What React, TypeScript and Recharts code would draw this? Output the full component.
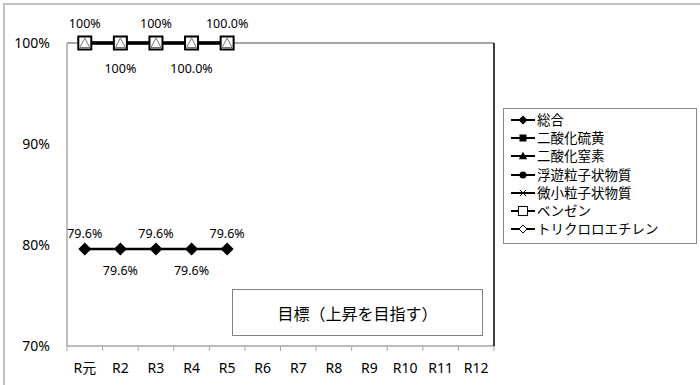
import React from 'react';
import { LineChart, Line, XAxis, YAxis, ReferenceLine, LabelList } from 'recharts';

const categories = ['R元', 'R2', 'R3', 'R4', 'R5', 'R6', 'R7', 'R8', 'R9', 'R10', 'R11', 'R12'];
const sougou = [79.6, 79.6, 79.6, 79.6, 79.6];
const so2 = [100, 100, 100, 100, 100];
const no2 = [100, 100, 100, 100, 100];
const spm = [100, 100, 100, 100, 100];
const pm25 = [100, 100, 100, 100, 100];
const benzene = [100, 100, 100, 100, 100];
const tce = [100, 100, 100, 100, 100];
const sougouLabels = ['79.6%', '79.6%', '79.6%', '79.6%', '79.6%'];
const topLabels = ['100%', '100%', '100%', '100.0%', '100.0%'];
const yTicks = [70, 80, 90, 100];
const targetText = '目標（上昇を目指す）';

const series = [
  { key: '総合', values: sougou, marker: 'diamond' },
  { key: '二酸化硫黄', values: so2, marker: 'square' },
  { key: '二酸化窒素', values: no2, marker: 'triangle' },
  { key: '浮遊粒子状物質', values: spm, marker: 'circle' },
  { key: '微小粒子状物質', values: pm25, marker: 'cross' },
  { key: 'ベンゼン', values: benzene, marker: 'wsquare' },
  { key: 'トリクロロエチレン', values: tce, marker: 'wdiamond' },
];

const data = categories.map((cat, i) => {
  const row: Record<string, string | number | null> = { cat };
  series.forEach((s) => {
    row[s.key] = s.values[i] ?? null;
  });
  return row;
});

const FONT = "'Noto Sans', 'Noto Sans CJK JP', sans-serif";
const PLOT_LEFT = 67;
const PLOT_RIGHT = 494;
const HALF_BAND = (PLOT_RIGHT - PLOT_LEFT) / categories.length / 2;

const Marker = ({ type, cx, cy, s = 1 }: { type: string; cx: number; cy: number; s?: number }) => {
  switch (type) {
    case 'diamond': {
      const r = 6.5 * s;
      return <polygon points={`${cx},${cy - r} ${cx + r},${cy} ${cx},${cy + r} ${cx - r},${cy}`} fill="#000" />;
    }
    case 'square': {
      const r = 5 * s;
      return <rect x={cx - r} y={cy - r} width={r * 2} height={r * 2} fill="#000" />;
    }
    case 'triangle': {
      const r = 6 * s;
      return <polygon points={`${cx},${cy - r} ${cx + r},${cy + r * 0.8} ${cx - r},${cy + r * 0.8}`} fill="#000" />;
    }
    case 'circle':
      return <circle cx={cx} cy={cy} r={5 * s} fill="#000" />;
    case 'cross': {
      const r = 4.5 * s;
      return (
        <g stroke="#000" strokeWidth={1}>
          <line x1={cx - r} y1={cy - r} x2={cx + r} y2={cy + r} />
          <line x1={cx - r} y1={cy + r} x2={cx + r} y2={cy - r} />
        </g>
      );
    }
    case 'wsquare': {
      const r = 6.5 * s;
      return <rect x={cx - r} y={cy - r} width={r * 2} height={r * 2} fill="#fff" stroke="#000" strokeWidth={s < 1 ? 1 : 2} />;
    }
    case 'wdiamond': {
      const r = 5 * s;
      return (
        <polygon
          points={`${cx},${cy - r} ${cx + r},${cy + r * 0.9} ${cx - r},${cy + r * 0.9}`}
          fill="#fff"
          stroke="#777"
          strokeWidth={1}
        />
      );
    }
    default:
      return null;
  }
};

const LegendMarker = ({ type, cx, cy }: { type: string; cx: number; cy: number }) => {
  if (type === 'wdiamond') {
    const r = 4;
    return <polygon points={`${cx},${cy - r} ${cx + r},${cy} ${cx},${cy + r} ${cx - r},${cy}`} fill="#fff" stroke="#000" strokeWidth={1} />;
  }
  return <Marker type={type} cx={cx} cy={cy} s={0.7} />;
};

const renderDot = (type: string) => (props: any) => {
  const { cx, cy, index, value } = props;
  if (value == null || cx == null || cy == null) return <g key={`n-${type}-${index}`} />;
  return (
    <g key={`d-${type}-${index}`}>
      <Marker type={type} cx={cx} cy={cy} />
    </g>
  );
};

const makeLabel = (labels: string[], above: number, below: number) => (props: any) => {
  const { x, y, index } = props;
  if (x == null || y == null || labels[index] == null) return null;
  const up = index % 2 === 0;
  return (
    <text
      x={x}
      y={up ? y - above : y + below}
      textAnchor="middle"
      dominantBaseline="central"
      fontSize={12.5}
      fontFamily={FONT}
      fill="#000"
    >
      {labels[index]}
    </text>
  );
};

const XTick = (props: any) => {
  const { x, y, payload, index } = props;
  const last = index === categories.length - 1;
  return (
    <g>
      <line x1={x - HALF_BAND} x2={x - HALF_BAND} y1={y} y2={y + 5} stroke="#a6a6a6" />
      {last && <line x1={x + HALF_BAND} x2={x + HALF_BAND} y1={y} y2={y + 5} stroke="#a6a6a6" />}
      <text x={x} y={y + 21} textAnchor="middle" dominantBaseline="central" fontSize={14} fontFamily={FONT} fill="#000">
        {payload.value}
      </text>
    </g>
  );
};

const LegendBox = () => (
  <div
    style={{
      position: 'absolute',
      left: 503,
      top: 108,
      border: '1.5px solid #888',
      background: '#fff',
      width: 194,
      height: 136,
      boxSizing: 'border-box',
      padding: '2px 0 0 6px',
      fontFamily: FONT,
      fontSize: 13.5,
      color: '#000',
    }}
  >
    {series.map((s) => (
      <div key={s.key} style={{ display: 'flex', alignItems: 'center', height: 18.2, lineHeight: '18px' }}>
        <svg width={26} height={12} style={{ marginRight: 1 }}>
          <line x1={1} x2={25} y1={6} y2={6} stroke="#000" strokeWidth={2} />
          <LegendMarker type={s.marker} cx={13} cy={6} />
        </svg>
        <span>{s.key}</span>
      </div>
    ))}
  </div>
);

export default function App() {
  return (
    <div style={{ position: 'absolute', left: 0, top: 0, width: 700, height: 385, background: '#fff', overflow: 'hidden' }}>
      <div
        style={{
          position: 'absolute',
          left: 3,
          top: 3,
          width: 720,
          height: 400,
          borderTop: '2px solid #bfbfbf',
          borderLeft: '2px solid #bfbfbf',
        }}
      />
      <LineChart width={700} height={385} data={data} margin={{ top: 43, right: 205, bottom: 0, left: 0 }}>
        <XAxis
          dataKey="cat"
          scale="band"
          height={39}
          axisLine={{ stroke: '#a6a6a6', strokeWidth: 1.5 }}
          tickLine={false}
          tickSize={0}
          tickMargin={0}
          interval={0}
          tick={<XTick />}
        />
        <YAxis
          width={67}
          domain={[70, 100]}
          ticks={yTicks}
          tickFormatter={(v: number) => `${v}%`}
          axisLine={{ stroke: '#a6a6a6', strokeWidth: 1.5 }}
          tickLine={false}
          tickSize={0}
          tickMargin={17}
          tick={{ fill: '#000', fontSize: 14, fontFamily: FONT }}
        />
        <YAxis
          yAxisId="right"
          orientation="right"
          width={1}
          domain={[70, 100]}
          tick={false}
          tickLine={false}
          axisLine={{ stroke: '#000', strokeWidth: 1.5 }}
        />
        <ReferenceLine y={100} stroke="#a6a6a6" strokeWidth={2} />
        {series.map((s, si) => (
          <Line
            key={s.key}
            type="linear"
            dataKey={s.key}
            stroke="#000"
            strokeWidth={2.5}
            dot={renderDot(s.marker)}
            activeDot={false}
            isAnimationActive={false}
          >
            {si === 0 && <LabelList dataKey={s.key} content={makeLabel(sougouLabels, 16, 21)} />}
            {si === series.length - 1 && <LabelList dataKey={s.key} content={makeLabel(topLabels, 20, 25)} />}
          </Line>
        ))}
      </LineChart>
      <LegendBox />
      <div
        style={{
          position: 'absolute',
          left: 232,
          top: 289,
          width: 251,
          height: 47,
          boxSizing: 'border-box',
          border: '1.5px solid #7f7f7f',
          background: '#fff',
          display: 'flex',
          alignItems: 'center',
          justifyContent: 'center',
          fontFamily: FONT,
          fontSize: 16,
          color: '#000',
        }}
      >
        {targetText}
      </div>
    </div>
  );
}
